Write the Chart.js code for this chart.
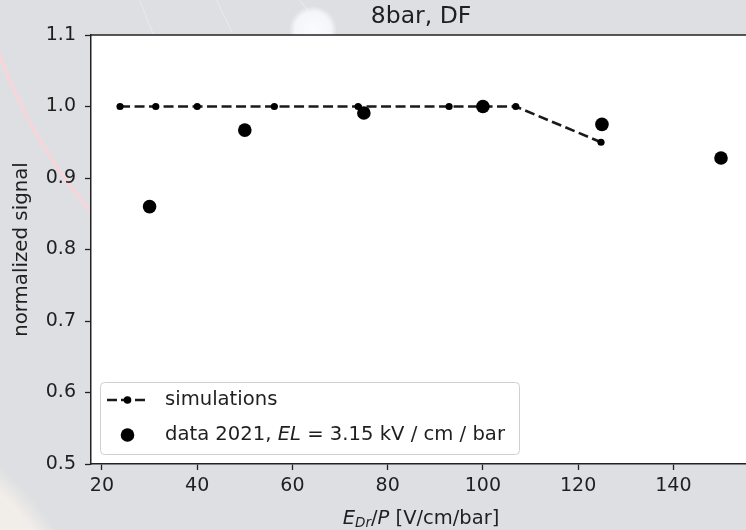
<!DOCTYPE html>
<html>
<head>
<meta charset="utf-8">
<script src="https://cdn.jsdelivr.net/npm/chart.js@4.4.1/dist/chart.umd.min.js"></script>
<style>
  html, body { margin:0; padding:0; }
  body {
    width:746px; height:530px; overflow:hidden; position:relative;
    background:
      radial-gradient(circle at 313px 30px, rgba(250,251,255,1) 0px, rgba(245,247,252,0.95) 18px, rgba(240,242,248,0) 24px),
      radial-gradient(circle at 474px -116px, rgba(255,210,215,0) 501.5px, rgba(255,210,216,0.95) 504px, rgba(255,210,215,0) 506.5px),
      radial-gradient(circle at -200px 700px, rgba(241,237,233,1) 0px, rgba(241,237,233,1) 288px, rgba(241,237,233,0) 308px),
      #dedfe2;
  }
  .orbit { position:absolute; height:1.2px; background:rgba(238,240,252,0.6); transform-origin:0 0; }
  #wrap { position:absolute; left:0; top:0; width:760px; height:530px; }
</style>
</head>
<body>
<div class="orbit" style="left:140px;top:0;width:36px;transform:rotate(68deg)"></div>
<div class="orbit" style="left:217px;top:0;width:36px;transform:rotate(64deg)"></div>
<div class="orbit" style="left:300px;top:0;width:16px;transform:rotate(50deg)"></div>
<div id="wrap"><canvas id="c" width="760" height="530"></canvas></div>
<script>
// ---- data ----
const simX = [23.8, 31.3, 40, 56.2, 73.8, 92.9, 106.9, 124.8];
const simY = [1.0, 1.0, 1.0, 1.0, 1.0, 1.0, 1.0, 0.95];
const dataX = [30, 50, 75, 100, 125, 150];
const dataY = [0.860, 0.967, 0.991, 1.0, 0.975, 0.928];
const xTicks = [20, 40, 60, 80, 100, 120, 140];
const yTicks = [0.5, 0.6, 0.7, 0.8, 0.9, 1.0, 1.1];
const titleText = '8bar, DF';
const yLabelText = 'normalized signal';
const legendSim = 'simulations';
const legendData = ['data 2021, ', 'EL', ' = 3.15 kV / cm / bar'];

const FONT = 'DejaVu Sans';
const INK = '#1f1f1f';

const decor = {
  id: 'decor',
  beforeDraw(chart) {
    const {ctx, chartArea: a} = chart;
    ctx.save();
    ctx.fillStyle = '#ffffff';
    ctx.fillRect(a.left, a.top, a.right - a.left, a.bottom - a.top);
    ctx.restore();
  },
  afterDraw(chart) {
    const {ctx, chartArea: a} = chart;
    ctx.save();
    // top spine
    ctx.strokeStyle = '#222';
    ctx.lineWidth = 1.5;
    ctx.beginPath();
    ctx.moveTo(a.left, a.top);
    ctx.lineTo(a.right, a.top);
    ctx.stroke();

    ctx.fillStyle = INK;
    // title
    ctx.font = '23.5px "' + FONT + '"';
    ctx.textAlign = 'center';
    ctx.textBaseline = 'alphabetic';
    ctx.fillText(titleText, (a.left + a.right) / 2, 23);

    // y label
    ctx.save();
    ctx.translate(22, (a.top + a.bottom) / 2);
    ctx.rotate(-Math.PI / 2);
    ctx.font = '19.8px "' + FONT + '"';
    ctx.textAlign = 'center';
    ctx.textBaseline = 'middle';
    ctx.fillText(yLabelText, 0, 0);
    ctx.restore();

    // x label (math-like)
    const segs = [
      {t: 'E', f: 'italic 19.5px "' + FONT + '"', dy: 0},
      {t: 'Dr', f: 'italic 13.5px "' + FONT + '"', dy: 3},
      {t: '/', f: '19.5px "' + FONT + '"', dy: 0},
      {t: 'P', f: 'italic 19.5px "' + FONT + '"', dy: 0},
      {t: ' [V/cm/bar]', f: '19.5px "' + FONT + '"', dy: 0}
    ];
    let w = 0;
    segs.forEach(s => { ctx.font = s.f; s.w = ctx.measureText(s.t).width; w += s.w; });
    let x = (a.left + a.right) / 2 - w / 2;
    ctx.textAlign = 'left';
    ctx.textBaseline = 'alphabetic';
    segs.forEach(s => { ctx.font = s.f; ctx.fillText(s.t, x, 524 + s.dy); x += s.w; });

    // legend
    const lx = 100.5, ly = 382.5, lw = 419, lh = 72;
    ctx.beginPath();
    ctx.roundRect(lx, ly, lw, lh, 4);
    ctx.fillStyle = 'rgba(255,255,255,0.85)';
    ctx.fill();
    ctx.strokeStyle = '#d0d0d0';
    ctx.lineWidth = 1;
    ctx.stroke();

    const r1 = 400, r2 = 435;
    ctx.strokeStyle = '#1a1a1a';
    ctx.lineWidth = 2.6;
    ctx.setLineDash([10, 4]);
    ctx.beginPath();
    ctx.moveTo(107, r1);
    ctx.lineTo(148, r1);
    ctx.stroke();
    ctx.setLineDash([]);
    ctx.fillStyle = '#000';
    ctx.beginPath(); ctx.arc(127.5, r1, 3.8, 0, Math.PI * 2); ctx.fill();
    ctx.beginPath(); ctx.arc(127.5, r2, 6.8, 0, Math.PI * 2); ctx.fill();

    ctx.fillStyle = INK;
    ctx.textBaseline = 'middle';
    ctx.font = '19.6px "' + FONT + '"';
    ctx.fillText(legendSim, 165, r1);
    let tx = 165;
    legendData.forEach((t, i) => {
      ctx.font = (i === 1 ? 'italic ' : '') + '19.6px "' + FONT + '"';
      ctx.fillText(t, tx, r2);
      tx += ctx.measureText(t).width;
    });
    ctx.restore();
  }
};

const tickFont = {family: FONT, size: 19};

new Chart(document.getElementById('c'), {
  type: 'scatter',
  data: {
    datasets: [
      {
        label: legendSim,
        data: simX.map((x, i) => ({x, y: simY[i]})),
        showLine: true,
        borderColor: '#1a1a1a',
        borderWidth: 2.6,
        borderDash: [10, 4.5],
        pointRadius: 3.6,
        pointBackgroundColor: '#000',
        pointBorderWidth: 0,
        order: 1
      },
      {
        label: 'data 2021',
        data: dataX.map((x, i) => ({x, y: dataY[i]})),
        showLine: false,
        pointRadius: 6.8,
        pointBackgroundColor: '#000',
        pointBorderWidth: 0,
        order: 0
      }
    ]
  },
  options: {
    responsive: false,
    animation: false,
    events: [],
    layout: {padding: {top: 35, right: 9, left: 0, bottom: 0}},
    plugins: {legend: {display: false}, tooltip: {enabled: false}, title: {display: false}},
    scales: {
      x: {
        type: 'linear',
        min: 17.7, max: 156.3,
        afterBuildTicks: s => { s.ticks = xTicks.map(v => ({value: v})); },
        afterFit: s => { s.height = 66; },
        ticks: {font: tickFont, color: INK, padding: 5, maxRotation: 0, callback: v => String(v)},
        grid: {drawOnChartArea: false, drawTicks: true, tickLength: 6, tickColor: '#222', tickWidth: 1.3},
        border: {display: true, color: '#222', width: 1.5}
      },
      y: {
        type: 'linear',
        min: 0.5, max: 1.1,
        afterBuildTicks: s => { s.ticks = yTicks.map(v => ({value: v})); },
        afterFit: s => { s.width = 91; },
        ticks: {font: tickFont, color: INK, padding: 9, callback: v => Number(v).toFixed(1)},
        grid: {drawOnChartArea: false, drawTicks: true, tickLength: 6, tickColor: '#222', tickWidth: 1.3},
        border: {display: true, color: '#222', width: 1.5}
      }
    }
  },
  plugins: [decor]
});
</script>
</body>
</html>
